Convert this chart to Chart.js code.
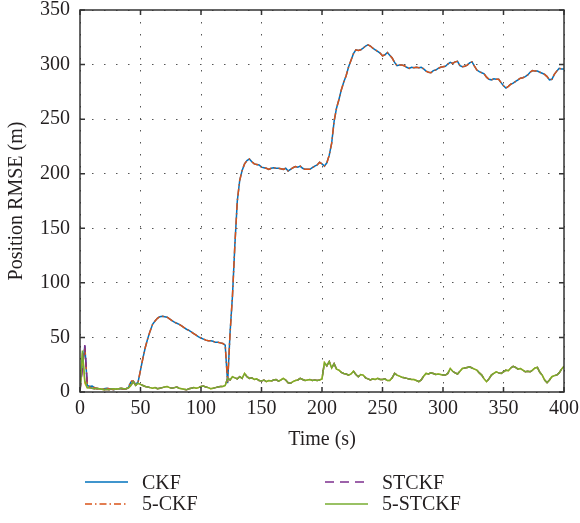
<!DOCTYPE html>
<html>
<head>
<meta charset="utf-8">
<script src="https://cdn.jsdelivr.net/npm/chart.js@4.4.1/dist/chart.umd.min.js"></script>
<style>
  body { margin: 0; background: #fff; overflow: hidden; }
  #wrap { position: relative; width: 580px; height: 523px; overflow: hidden; }
  .leg { position: absolute; display: flex; align-items: center; font: 20px "Liberation Serif", serif; color: #231f20; white-space: nowrap; }
  .leg svg { margin-right: 14px; }
</style>
</head>
<body>
<div id="wrap">
  <canvas id="rmse-chart" width="580" height="523"></canvas>
</div>
<script>
// time axis, one sample every 2 s
const timeSec = [];
for (let t = 0; t <= 400; t += 2) timeSec.push(t);

const xTicks = [0, 50, 100, 150, 200, 250, 300, 350, 400];
const yTicks = [0, 50, 100, 150, 200, 250, 300, 350];

const ckf = [
  2, 25, 42, 6, 5, 5.5, 4, 3, 3, 2.5,
  3, 3.5, 3, 2.5, 2, 3, 3, 3, 2.5, 3,
  4, 9, 10, 7, 9, 20, 31, 41, 49, 56,
  62, 65, 67.5, 69, 69.5, 69, 68.5, 67, 65.5, 64,
  63, 62, 60.5, 59, 57.5, 56.5, 55, 53.5, 52, 50.5,
  49.5, 48.5, 47.5, 47, 47, 46.5, 45.5, 45.5, 45, 44.5,
  43, 8, 54, 88, 135, 175, 194, 203, 209, 212,
  213.5, 211, 209, 208.5, 208, 206, 205.5, 205, 204, 205,
  205.5, 205, 205, 204.5, 204, 205, 202.5, 204, 205.5, 206.5,
  206, 207, 205, 204, 204, 204, 205.5, 207, 208, 210.5,
  209, 207, 210, 217, 228, 248, 260, 268, 277, 284,
  290, 298, 304, 310, 313.5, 313, 313.5, 315, 317, 318,
  317, 315, 313.5, 312, 310.5, 308, 309, 311, 308.5, 306,
  302, 299, 299.5, 299.5, 299, 297.5, 296.5, 297.5, 297, 297.5,
  297, 297.5, 296, 294, 293, 292.5, 294.5, 295, 296.5, 297.5,
  298, 298.5, 300.5, 302, 301, 302.5, 303, 299, 298, 298.5,
  299.5, 301.5, 302.5, 298.5, 295, 293.5, 292.5, 291.5, 288.5, 286.5,
  286, 287, 286.5, 286.5, 283.5, 280.5, 278.5, 280, 282, 283,
  284.5, 286, 287.5, 288, 289, 290.5, 293, 294.5, 294, 294,
  293, 292, 291, 289, 286, 286.5, 291, 294, 296.5, 296,
  296
];

const ckf5 = [
  2, 24, 41, 7, 5, 5, 4, 3, 3, 2.5,
  3, 3.5, 3, 2.5, 2, 3, 3, 3, 2.5, 3,
  4, 10, 10, 7, 9, 20, 31, 41, 49, 56,
  62, 65, 67.5, 69, 69.5, 69, 68.5, 67, 65.5, 64,
  63, 62, 60.5, 59, 57.5, 56.5, 55, 53.5, 52, 50.5,
  49.5, 48.5, 47.5, 47, 47, 46.5, 45.5, 45.5, 45, 44.5,
  43, 9, 53, 88, 135, 175, 194, 203, 209, 212,
  213.5, 211, 209, 208.5, 208, 206, 205.5, 205, 204, 205,
  205.5, 205, 205, 204.5, 204, 205, 202.5, 204, 205.5, 206.5,
  206, 207, 205, 204, 204, 204, 205.5, 207, 208, 210.5,
  209, 207, 210, 217, 228, 248, 260, 268, 277, 284,
  290, 298, 304, 310, 313.5, 313, 313.5, 315, 317, 318,
  317, 315, 313.5, 312, 310.5, 308, 309, 311, 308.5, 306,
  302, 299, 299.5, 299.5, 299, 297.5, 296.5, 297.5, 297, 297.5,
  297, 297.5, 296, 294, 293, 292.5, 294.5, 295, 296.5, 297.5,
  298, 298.5, 300.5, 302, 301, 302.5, 303, 299, 298, 298.5,
  299.5, 301.5, 302.5, 298.5, 295, 293.5, 292.5, 291.5, 288.5, 286.5,
  286, 287, 286.5, 286.5, 283.5, 280.5, 278.5, 280, 282, 283,
  284.5, 286, 287.5, 288, 289, 290.5, 293, 294.5, 294, 294,
  293, 292, 291, 289, 286, 286.5, 291, 294, 296.5, 296,
  296
];

const ukf = [
  0, 36, 8, 4, 4, 3.5, 3, 3.5, 3, 2.5,
  2, 2.5, 2, 3, 3, 2.5, 3, 3.5, 3, 3,
  3.5, 6, 9.5, 6, 8, 7, 6, 5, 4.5, 4,
  3.5, 4, 3, 3.5, 4, 4.5, 5, 4, 3.5, 4,
  4.5, 3.5, 3, 2.5, 2, 3, 3.5, 4, 3.5, 4,
  5, 5.5, 4.5, 4, 3, 3.5, 4, 4.5, 5, 5,
  6, 12.5, 11, 14, 13, 12, 14, 12.5, 17, 14,
  12.5, 13, 11.5, 12, 10.5, 10, 11, 9.5, 10.5, 10,
  11, 11.5, 10, 11, 12.5, 11, 8.5, 8, 9.5, 10.5,
  11, 12.5, 11.5, 10.5, 11, 11.5, 10.5, 11, 10.5, 11,
  12, 27, 24, 28, 22, 26, 21, 20, 18, 17,
  16.5, 15.5, 16.5, 19, 16, 14, 16, 15.5, 13, 12,
  11, 12, 11.5, 12.5, 11.5, 11.5, 12, 10.5, 10.5, 13,
  17, 15.5, 14.5, 13.5, 13, 12.5, 12, 11.5, 11.5, 10.5,
  9.5, 11, 14.5, 17, 16.5, 17.5, 17, 16, 16.5, 16,
  15.5, 15.5, 17, 21.5, 19, 17.5, 16.5, 19, 21.5, 22,
  22.5, 23, 22, 21, 20, 17.5, 15.5, 12, 9.5, 12,
  15.5, 17, 18.5, 17.5, 17, 18.5, 20, 19.5, 22, 23.5,
  22.5, 21, 21.5, 20, 18.5, 19, 18.5, 20, 22, 22.5,
  18, 15.5, 11, 8.5, 11, 14, 15, 15.5, 17.5, 21,
  23.5
];

const stckf = [
  0, 22, 43, 8, 4, 3.5, 3, 3.5, 3, 2.5,
  2, 2.5, 2, 3, 3, 2.5, 3, 3.5, 3, 3,
  3.5, 6, 9.5, 6, 8, 7, 6, 5, 4.5, 4,
  3.5, 4, 3, 3.5, 4, 4.5, 5, 4, 3.5, 4,
  4.5, 3.5, 3, 2.5, 2, 3, 3.5, 4, 3.5, 4,
  5, 5.5, 4.5, 4, 3, 3.5, 4, 4.5, 5, 5,
  6, 12.5, 11, 14, 13, 12, 14, 12.5, 17, 14,
  12.5, 13, 11.5, 12, 10.5, 10, 11, 9.5, 10.5, 10,
  11, 11.5, 10, 11, 12.5, 11, 8.5, 8, 9.5, 10.5,
  11, 12.5, 11.5, 10.5, 11, 11.5, 10.5, 11, 10.5, 11,
  12, 27, 24, 28, 22, 26, 21, 20, 18, 17,
  16.5, 15.5, 16.5, 19, 16, 14, 16, 15.5, 13, 12,
  11, 12, 11.5, 12.5, 11.5, 11.5, 12, 10.5, 10.5, 13,
  17, 15.5, 14.5, 13.5, 13, 12.5, 12, 11.5, 11.5, 10.5,
  9.5, 11, 14.5, 17, 16.5, 17.5, 17, 16, 16.5, 16,
  15.5, 15.5, 17, 21.5, 19, 17.5, 16.5, 19, 21.5, 22,
  22.5, 23, 22, 21, 20, 17.5, 15.5, 12, 9.5, 12,
  15.5, 17, 18.5, 17.5, 17, 18.5, 20, 19.5, 22, 23.5,
  22.5, 21, 21.5, 20, 18.5, 19, 18.5, 20, 22, 22.5,
  18, 15.5, 11, 8.5, 11, 14, 15, 15.5, 17.5, 21,
  23.5
];

const stckf5 = [
  0, 38, 10, 4, 4, 3.5, 3, 3.5, 3, 2.5,
  2, 2.5, 2, 3, 3, 2.5, 3, 3.5, 3, 3,
  3.5, 6, 9.5, 6, 8, 7, 6, 5, 4.5, 4,
  3.5, 4, 3, 3.5, 4, 4.5, 5, 4, 3.5, 4,
  4.5, 3.5, 3, 2.5, 2, 3, 3.5, 4, 3.5, 4,
  5, 5.5, 4.5, 4, 3, 3.5, 4, 4.5, 5, 5,
  6, 12.5, 11, 14, 13, 12, 14, 12.5, 17, 14,
  12.5, 13, 11.5, 12, 10.5, 10, 11, 9.5, 10.5, 10,
  11, 11.5, 10, 11, 12.5, 11, 8.5, 8, 9.5, 10.5,
  11, 12.5, 11.5, 10.5, 11, 11.5, 10.5, 11, 10.5, 11,
  12, 27, 24, 28, 22, 26, 21, 20, 18, 17,
  16.5, 15.5, 16.5, 19, 16, 14, 16, 15.5, 13, 12,
  11, 12, 11.5, 12.5, 11.5, 11.5, 12, 10.5, 10.5, 13,
  17, 15.5, 14.5, 13.5, 13, 12.5, 12, 11.5, 11.5, 10.5,
  9.5, 11, 14.5, 17, 16.5, 17.5, 17, 16, 16.5, 16,
  15.5, 15.5, 17, 21.5, 19, 17.5, 16.5, 19, 21.5, 22,
  22.5, 23, 22, 21, 20, 17.5, 15.5, 12, 9.5, 12,
  15.5, 17, 18.5, 17.5, 17, 18.5, 20, 19.5, 22, 23.5,
  22.5, 21, 21.5, 20, 18.5, 19, 18.5, 20, 22, 22.5,
  18, 15.5, 11, 8.5, 11, 14, 15, 15.5, 17.5, 21,
  23.5
];

const seriesNames = ['CKF', '5-CKF', 'UKF', 'STCKF', '5-STCKF'];
const seriesData = [ckf, ckf5, ukf, stckf, stckf5];
const seriesColors = ['#0072BD', '#D95319', '#EDB120', '#7E2F8E', '#77AC30'];
const seriesDash = [[], [7, 3, 1.5, 3], [], [9, 6], []];
const drawOrder = [4, 3, 2, 1, 0]; // lower = drawn on top

const FONT = '"Liberation Serif", "Times New Roman", serif';
const INK = '#231f20';

const datasets = seriesNames.map((name, i) => ({
  label: name,
  data: seriesData[i].map((v, k) => ({ x: timeSec[k], y: v })),
  borderColor: seriesColors[i],
  borderDash: seriesDash[i],
  borderWidth: 1.5,
  pointRadius: 0,
  tension: 0,
  order: drawOrder[i],
}));

// no extra room for overhanging tick labels, the layout padding decides
function noPad(s) {
  s.paddingTop = 0; s.paddingBottom = 0; s.paddingLeft = 0; s.paddingRight = 0;
}

// box around the plot with inward tick marks
const boxPlugin = {
  id: 'box',
  afterDraw(chart) {
    const { ctx, chartArea: a, scales } = chart;
    ctx.save();
    ctx.strokeStyle = '#333';
    ctx.lineWidth = 1.5;
    ctx.strokeRect(a.left, a.top, a.right - a.left, a.bottom - a.top);
    ctx.beginPath();
    xTicks.forEach((t) => {
      const px = scales.x.getPixelForValue(t);
      ctx.moveTo(px, a.bottom); ctx.lineTo(px, a.bottom - 5);
      ctx.moveTo(px, a.top); ctx.lineTo(px, a.top + 5);
    });
    yTicks.forEach((t) => {
      const py = scales.y.getPixelForValue(t);
      ctx.moveTo(a.left, py); ctx.lineTo(a.left + 5, py);
      ctx.moveTo(a.right, py); ctx.lineTo(a.right - 5, py);
    });
    ctx.stroke();
    ctx.restore();
  },
};

const rmseChart = new Chart(document.getElementById('rmse-chart'), {
  type: 'line',
  data: { datasets: datasets },
  options: {
    responsive: false,
    animation: false,
    devicePixelRatio: 1,
    layout: { padding: { top: 10, right: 16, bottom: 61, left: 0 } },
    plugins: { legend: { display: false }, tooltip: { enabled: false } },
    scales: {
      x: {
        type: 'linear',
        min: 0,
        max: 400,
        afterBuildTicks: (s) => { s.ticks = xTicks.map((v) => ({ value: v })); },
        afterFit: (s) => { s.height = 70; noPad(s); },
        grid: { color: '#555', lineWidth: 1, drawTicks: false },
        border: { display: false, dash: [1.5, 10.5] },
        ticks: { color: INK, font: { family: FONT, size: 20 }, padding: 5, maxRotation: 0 },
        title: { display: true, text: 'Time (s)', color: INK, font: { family: FONT, size: 20 }, padding: { top: 0, bottom: 10 } },
      },
      y: {
        min: 0,
        max: 350,
        afterBuildTicks: (s) => { s.ticks = yTicks.map((v) => ({ value: v })); },
        afterFit: (s) => { s.width = 80; noPad(s); },
        grid: { color: '#555', lineWidth: 1, drawTicks: false },
        border: { display: false, dash: [1.5, 10.5] },
        ticks: { color: INK, font: { family: FONT, size: 20 }, padding: 10 },
        title: { display: true, text: 'Position RMSE (m)', color: INK, font: { family: FONT, size: 20 }, padding: { top: 5, bottom: 0 } },
      },
    },
  },
  plugins: [boxPlugin],
});

// legend in two columns below the axes (third row falls off the page)
const legendRowY = [482, 503.5, 531];
const wrap = document.getElementById('wrap');
seriesNames.forEach((name, i) => {
  const col = Math.floor(i / 3);
  const row = i % 3;
  const item = document.createElement('div');
  item.className = 'leg';
  item.style.left = (col === 0 ? 85 : 325) + 'px';
  item.style.top = (legendRowY[row] - 12) + 'px';
  item.style.height = '24px';
  const dash = seriesDash[i].length ? seriesDash[i].join(' ') : 'none';
  item.innerHTML =
    '<svg width="43" height="4"><line x1="0" y1="2" x2="43" y2="2" stroke="' +
    seriesColors[i] + '" stroke-width="1.5" stroke-dasharray="' + dash + '"/></svg>' +
    '<span>' + name + '</span>';
  wrap.appendChild(item);
});
</script>
</body>
</html>
